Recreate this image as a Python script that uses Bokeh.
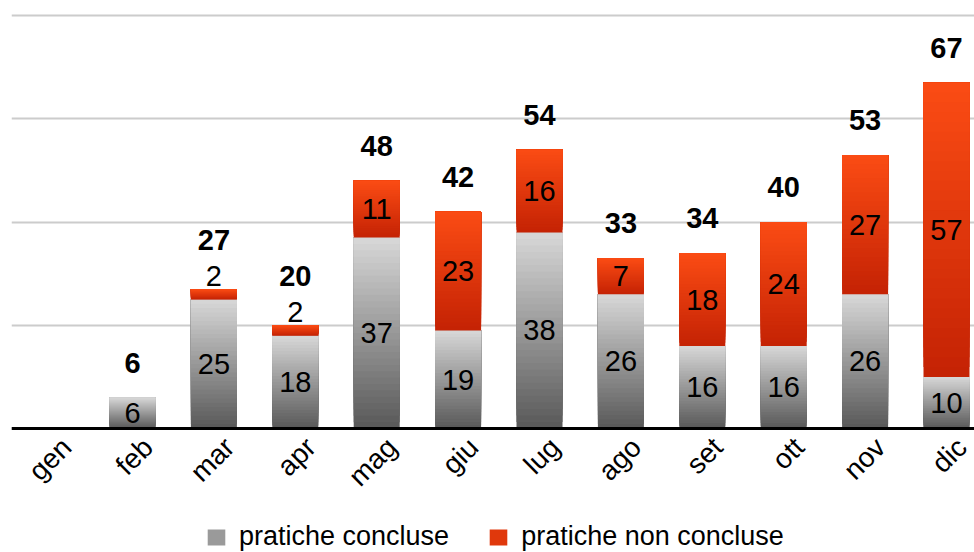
import math
from bokeh.plotting import figure
from bokeh.models import (ColumnDataSource, Range1d, FixedTicker, CustomJSTickFormatter,
                          Grid, Legend, LegendItem)
from bokeh.core.properties import value
from bokeh.embed import file_html
from bokeh.resources import INLINE

# ---------------- data ----------------
months = ["gen", "feb", "mar", "apr", "mag", "giu", "lug", "ago", "set", "ott", "nov", "dic"]
concluse = [0, 6, 25, 18, 37, 19, 38, 26, 16, 16, 26, 10]
non_concluse = [0, 0, 2, 2, 11, 23, 16, 7, 18, 24, 27, 57]
y_ticks = [0, 20, 40, 60, 80]
series_names = ["pratiche concluse", "pratiche non concluse"]

totals = [c + n for c, n in zip(concluse, non_concluse)]

# ---------------- style ----------------
FONT = value("Liberation Sans")
GRAY_TOP, GRAY_BOTTOM = (216, 216, 216), (88, 88, 88)
RED_TOP, RED_BOTTOM = (251, 76, 20), (196, 34, 4)
N_SLICES = 30
BAR_W = 0.565
TICK_SHIFT = 0.19
NUM_SIZE = "29px"


def gradient_source(bottoms, heights, c_top, c_bottom):
    xs, b, t, col = [], [], [], []
    for i, (y0, h) in enumerate(zip(bottoms, heights)):
        if h <= 0:
            continue
        for k in range(N_SLICES):
            xs.append(i)
            b.append(y0 + h * k / N_SLICES)
            t.append(y0 + h)
            g = (k + 0.5) / N_SLICES
            rgb = tuple(round(c_bottom[j] + (c_top[j] - c_bottom[j]) * g) for j in range(3))
            col.append("#%02x%02x%02x" % rgb)
    return ColumnDataSource(dict(x=xs, bottom=b, top=t, color=col))


p = figure(width=974, height=552,
           x_range=Range1d(-0.4865, 11.344), y_range=Range1d(-24.02, 81),
           output_backend="svg", toolbar_location=None, y_axis_location=None,
           min_border_left=11, min_border_right=0, min_border_top=10, min_border_bottom=0)
p.outline_line_color = None
p.background_fill_color = "white"
p.border_fill_color = "white"
p.grid.visible = False

p.add_layout(Grid(dimension=1, ticker=FixedTicker(ticks=y_ticks),
                  grid_line_color="#cccccc", grid_line_width=2))

gray_src = gradient_source([0] * len(months), concluse, GRAY_TOP, GRAY_BOTTOM)
red_src = gradient_source(concluse, non_concluse, RED_TOP, RED_BOTTOM)

gray_r = p.vbar(x="x", bottom="bottom", top="top", width=BAR_W, source=gray_src,
                fill_color="color", line_color=None)
red_r = p.vbar(x="x", bottom="bottom", top="top", width=BAR_W, source=red_src,
               fill_color="color", line_color=None)

# ---------------- labels ----------------
mid = dict(x=[], y=[], t=[])
small = dict(x=[], y=[], t=[])
for i in range(len(months)):
    for y0, v in ((0, concluse[i]), (concluse[i], non_concluse[i])):
        if v <= 0:
            continue
        d = mid if v >= 4 else small
        d["x"].append(i)
        d["y"].append(y0 + v / 2 if v >= 4 else y0 + v)
        d["t"].append(str(v))

p.text(x="x", y="y", text="t", source=ColumnDataSource(mid), text_font=FONT,
       text_font_size=NUM_SIZE, text_align="center", text_baseline="middle", text_color="black")
p.text(x="x", y="y", text="t", source=ColumnDataSource(small), text_font=FONT,
       text_font_size=NUM_SIZE, text_align="center", text_baseline="middle",
       text_color="black", y_offset=-13)

tot_norm = dict(x=[], y=[], t=[])
tot_high = dict(x=[], y=[], t=[])
for i, tot in enumerate(totals):
    if tot <= 0:
        continue
    top_v = non_concluse[i] if non_concluse[i] > 0 else concluse[i]
    d = tot_high if top_v < 4 else tot_norm
    d["x"].append(i)
    d["y"].append(tot)
    d["t"].append(str(tot))

p.text(x="x", y="y", text="t", source=ColumnDataSource(tot_norm), text_font=FONT,
       text_font_size=NUM_SIZE, text_font_style="bold", text_align="center",
       text_baseline="middle", text_color="black", y_offset=-35)
p.text(x="x", y="y", text="t", source=ColumnDataSource(tot_high), text_font=FONT,
       text_font_size=NUM_SIZE, text_font_style="bold", text_align="center",
       text_baseline="middle", text_color="black", y_offset=-49)

# ---------------- axis ----------------
ax = p.xaxis[0]
ax.fixed_location = 0
ax.ticker = FixedTicker(ticks=[i + TICK_SHIFT for i in range(len(months))])
ax.formatter = CustomJSTickFormatter(args=dict(names=months, shift=TICK_SHIFT),
                                     code="return names[Math.round(tick - shift)] || ''")
ax.major_label_orientation = math.pi / 4
ax.major_label_text_font = "Liberation Sans"
ax.major_label_text_font_size = "28px"
ax.major_label_text_color = "black"
ax.major_label_standoff = 14
ax.major_tick_line_color = None
ax.minor_tick_line_color = None
ax.major_tick_out = 0
ax.major_tick_in = 0
ax.axis_line_color = "black"
ax.axis_line_width = 3

# ---------------- legend ----------------
legend = Legend(items=[LegendItem(label=series_names[0], renderers=[gray_r], index=45),
                       LegendItem(label=series_names[1], renderers=[red_r], index=15)],
                location=(194, 0), orientation="horizontal",
                glyph_width=22, glyph_height=20, label_standoff=12, spacing=38,
                padding=0, margin=0, border_line_color=None, background_fill_alpha=0,
                label_text_font="Liberation Sans", label_text_font_size="27px",
                label_text_color="black")
p.add_layout(legend)

open("out.html", "w").write(file_html(p, INLINE))
